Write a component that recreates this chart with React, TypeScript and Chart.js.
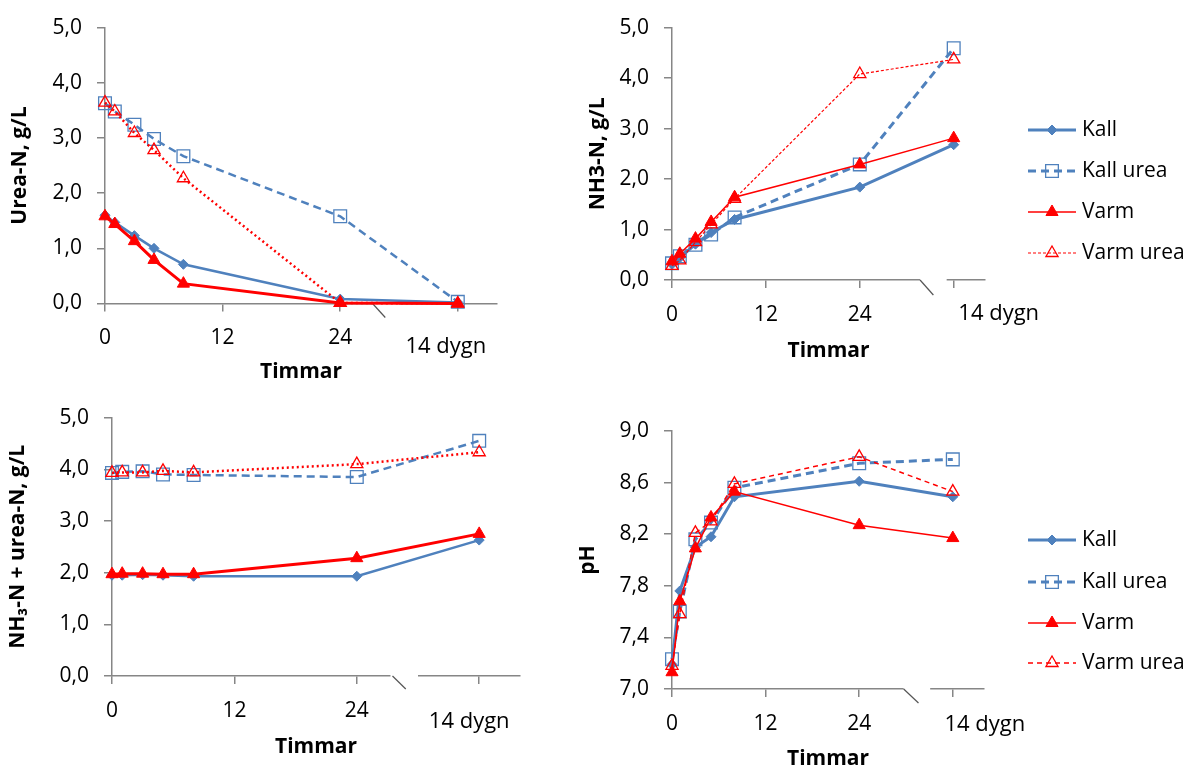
import React, { useEffect, useRef } from 'react';
import { Chart, registerables, PointElement } from 'chart.js';

Chart.register(...registerables);

// ---------- DATA ----------
const timeHours = [0, 1, 3, 5, 8, 24, 36]; // 36 = position of "14 dygn"
const xTickValues = [0, 12, 24, 36];
const dygnLabel = '14 dygn';
const seriesNames = ['Kall', 'Kall urea', 'Varm', 'Varm urea'];

const ureaKall = [1.6, 1.47, 1.23, 1.0, 0.71, 0.08, 0.02];
const ureaKallUrea = [3.63, 3.48, 3.24, 2.98, 2.67, 1.58, 0.03];
const ureaVarm = [1.58, 1.44, 1.13, 0.79, 0.36, 0.01, 0.0];
const ureaVarmUrea = [3.64, 3.48, 3.09, 2.78, 2.27, 0.01, 0.0];

const nh3Kall = [0.31, 0.44, 0.71, 0.94, 1.2, 1.84, 2.68];
const nh3KallUrea = [0.33, 0.47, 0.7, 0.9, 1.24, 2.29, 4.59];
const nh3Varm = [0.37, 0.52, 0.82, 1.15, 1.64, 2.29, 2.81];
const nh3VarmUrea = [0.28, 0.39, 0.75, 1.1, 1.61, 4.08, 4.37];

const sumKall = [1.95, 1.95, 1.96, 1.95, 1.93, 1.93, 2.63];
const sumKallUrea = [3.93, 3.95, 3.96, 3.9, 3.89, 3.85, 4.55];
const sumVarm = [1.97, 1.98, 1.98, 1.97, 1.97, 2.28, 2.75];
const sumVarmUrea = [3.93, 3.94, 3.94, 3.97, 3.94, 4.1, 4.33];

const phKall = [7.19, 7.76, 8.1, 8.18, 8.49, 8.61, 8.49];
const phKallUrea = [7.23, 7.6, 8.16, 8.29, 8.56, 8.75, 8.78];
const phVarm = [7.13, 7.68, 8.09, 8.33, 8.53, 8.27, 8.17];
const phVarmUrea = [7.18, 7.58, 8.21, 8.3, 8.59, 8.8, 8.53];

// ---------- STYLE ----------
const BLUE = '#4F81BD';
const RED = '#FF0000';
const AXIS = '#868686';
const FONT = "'Open Sans', sans-serif";
const CLEAR = 'rgba(255,255,255,0)';
const TICK_SIZE = 21;
const TITLE_SIZE = 21;

const markerStyles = [
  { pointStyle: 'rectRot', pointRadius: 5, pointBackgroundColor: BLUE, pointBorderColor: BLUE, pointBorderWidth: 1, borderColor: BLUE },
  { pointStyle: 'rect', pointRadius: 9, pointBackgroundColor: CLEAR, pointBorderColor: BLUE, pointBorderWidth: 1.3, borderColor: BLUE },
  { pointStyle: 'triangle', pointRadius: 7, pointBackgroundColor: RED, pointBorderColor: RED, pointBorderWidth: 1, borderColor: RED },
  { pointStyle: 'triangle', pointRadius: 7, pointBackgroundColor: CLEAR, pointBorderColor: RED, pointBorderWidth: 1.3, borderColor: RED },
];

const linesLeft = [
  { borderWidth: 2.5, borderDash: [] },
  { borderWidth: 2.5, borderDash: [8, 5] },
  { borderWidth: 3, borderDash: [] },
  { borderWidth: 2.5, borderDash: [2, 3] },
];
const linesNh3 = [
  { borderWidth: 3, borderDash: [] },
  { borderWidth: 3, borderDash: [8, 5] },
  { borderWidth: 1.5, borderDash: [] },
  { borderWidth: 1.2, borderDash: [3, 2] },
];
const linesPh = [
  { borderWidth: 3, borderDash: [] },
  { borderWidth: 3, borderDash: [8, 5] },
  { borderWidth: 1.5, borderDash: [] },
  { borderWidth: 1.5, borderDash: [5, 4] },
];

function buildDatasets(values: number[][], lineStyles: any[]) {
  return values.map((vals, i) => ({
    label: seriesNames[i],
    data: vals.map((y, j) => ({ x: timeHours[j], y })),
    ...markerStyles[i],
    ...lineStyles[i],
    order: 4 - i,
    clip: false as any,
    tension: 0,
    fill: false,
  }));
}

const decorPlugin = {
  id: 'decor',
  beforeDatasetsDraw(chart: any, _args: any, opts: any) {
    const ctx = chart.ctx;
    const xs = chart.scales.x;
    const yb = chart.chartArea.bottom;
    ctx.save();
    if (opts.gap) {
      const a = xs.getPixelForValue(opts.gap[0]);
      const b = xs.getPixelForValue(opts.gap[1]);
      ctx.fillStyle = '#ffffff';
      ctx.fillRect(a, yb - 3, b - a, 14);
    }
    if (opts.slash) {
      ctx.strokeStyle = '#555555';
      ctx.lineWidth = 1.2;
      ctx.beginPath();
      ctx.moveTo(xs.getPixelForValue(opts.slash[0]), yb);
      ctx.lineTo(xs.getPixelForValue(opts.slash[1]), yb + opts.slash[2]);
      ctx.stroke();
    }
    ctx.restore();
  },
  afterDraw(chart: any, _args: any, opts: any) {
    const ctx = chart.ctx;
    const xs = chart.scales.x;
    const yb = chart.chartArea.bottom;
    ctx.save();
    if (opts.dygn) {
      ctx.font = `${opts.dygn.size}px ${FONT}`;
      ctx.fillStyle = '#000';
      ctx.textAlign = 'center';
      ctx.textBaseline = 'middle';
      ctx.fillText(dygnLabel, xs.getPixelForValue(xTickValues[3]) + opts.dygn.dx, yb + opts.dygn.dy);
    }
    if (opts.legend) {
      const L = opts.legend;
      chart.data.datasets.forEach((ds: any, i: number) => {
        const y = L.ys[i];
        ctx.save();
        ctx.strokeStyle = ds.borderColor;
        ctx.lineWidth = ds.borderWidth;
        ctx.setLineDash(ds.borderDash || []);
        ctx.beginPath();
        ctx.moveTo(L.x1, y);
        ctx.lineTo(L.x2, y);
        ctx.stroke();
        ctx.restore();
        ctx.save();
        ctx.setLineDash([]);
        const p: any = new (PointElement as any)({
          x: (L.x1 + L.x2) / 2,
          y,
          options: {
            pointStyle: ds.pointStyle,
            radius: ds.pointRadius,
            backgroundColor: ds.pointBackgroundColor,
            borderColor: ds.pointBorderColor,
            borderWidth: ds.pointBorderWidth,
            rotation: 0,
          },
        });
        p.draw(ctx);
        ctx.restore();
        ctx.save();
        ctx.font = `${L.size}px ${FONT}`;
        ctx.fillStyle = '#000';
        ctx.textAlign = 'left';
        ctx.textBaseline = 'middle';
        ctx.fillText(ds.label, L.tx, y);
        ctx.restore();
      });
    }
    ctx.restore();
  },
};

type PanelCfg = {
  left: number; top: number; w: number; h: number;
  yWidth: number; xHeight: number; padTop: number; padRight: number;
  yTitle: string; yTitlePad: number; xTitlePad: number;
  yMin: number; yMax: number; yStep: number;
  values: number[][]; lines: any[];
  decor: any;
};

const panels: PanelCfg[] = [
  {
    left: 0, top: 0, w: 570, h: 390, yWidth: 105, xHeight: 86.5, padTop: 16, padRight: 73,
    yTitle: 'Urea-N, g/L', yTitlePad: 7, xTitlePad: 5, yMin: 0, yMax: 5, yStep: 1,
    values: [ureaKall, ureaKallUrea, ureaVarm, ureaVarmUrea], lines: linesLeft,
    decor: { gap: [27.3, 30.0], slash: [27.3, 28.6, 14], dygn: { dx: -12, dy: 43.5, size: 22 } },
  },
  {
    left: 570, top: 0, w: 626, h: 390, yWidth: 102, xHeight: 110, padTop: 20, padRight: 211,
    yTitle: 'NH3-N, g/L', yTitlePad: 15, xTitlePad: 26, yMin: 0, yMax: 5, yStep: 1,
    values: [nh3Kall, nh3KallUrea, nh3Varm, nh3VarmUrea], lines: linesNh3,
    decor: {
      gap: [31.7, 35.1], slash: [31.7, 33.4, 15], dygn: { dx: 45, dy: 34, size: 22 },
      legend: { x1: 458, x2: 506, tx: 512, ys: [130, 171, 212, 253], size: 21 },
    },
  },
  {
    left: 0, top: 390, w: 570, h: 382, yWidth: 112, xHeight: 96, padTop: 27, padRight: 50,
    yTitle: 'NH\u2083-N + urea-N, g/L', yTitlePad: 5, xTitlePad: 12, yMin: 0, yMax: 5, yStep: 1,
    values: [sumKall, sumKallUrea, sumVarm, sumVarmUrea], lines: linesLeft,
    decor: { gap: [27.3, 30.0], slash: [27.5, 28.8, 13], dygn: { dx: -10, dy: 46, size: 22 } },
  },
  {
    left: 570, top: 390, w: 626, h: 382, yWidth: 102, xHeight: 83, padTop: 41, padRight: 212,
    yTitle: 'pH', yTitlePad: 5, xTitlePad: 0, yMin: 7, yMax: 9, yStep: 0.4,
    values: [phKall, phKallUrea, phVarm, phVarmUrea], lines: linesPh,
    decor: {
      gap: [29.7, 33.1], slash: [29.7, 31.6, 14], dygn: { dx: 32, dy: 36, size: 22 },
      legend: { x1: 458, x2: 506, tx: 512, ys: [150, 192, 233, 273], size: 21 },
    },
  },
];

function Panel({ cfg }: { cfg: PanelCfg }) {
  const ref = useRef<HTMLCanvasElement>(null);
  useEffect(() => {
    if (!ref.current) return;
    const chart = new Chart(ref.current, {
      type: 'line',
      data: { datasets: buildDatasets(cfg.values, cfg.lines) as any },
      plugins: [decorPlugin as any],
      options: {
        animation: false,
        responsive: false,
        devicePixelRatio: 1,
        layout: { padding: { top: cfg.padTop, right: cfg.padRight, left: 0, bottom: 0 } },
        plugins: {
          legend: { display: false },
          tooltip: { enabled: false },
          decor: cfg.decor,
        } as any,
        scales: {
          x: {
            type: 'linear',
            min: 0,
            max: 40,
            afterBuildTicks: (scale: any) => {
              scale.ticks = xTickValues.map((v) => ({ value: v }));
            },
            afterFit: (scale: any) => {
              scale.height = cfg.xHeight;
            },
            ticks: {
              autoSkip: false,
              maxRotation: 0,
              padding: 14,
              color: '#000',
              font: { family: FONT, size: TICK_SIZE },
              callback: (v: any) => (Number(v) === xTickValues[3] ? '' : String(v)),
            },
            grid: { drawOnChartArea: false, drawTicks: true, tickLength: 8, color: AXIS, lineWidth: 1.5 },
            border: { display: true, color: AXIS, width: 1.5 },
            title: {
              display: true,
              text: 'Timmar',
              color: '#000',
              font: { family: FONT, size: TITLE_SIZE, weight: 'bold' },
              padding: { top: 0, bottom: cfg.xTitlePad },
            },
          },
          y: {
            type: 'linear',
            min: cfg.yMin,
            max: cfg.yMax,
            afterFit: (scale: any) => {
              scale.width = cfg.yWidth;
            },
            ticks: {
              stepSize: cfg.yStep,
              padding: 15,
              color: '#000',
              font: { family: FONT, size: TICK_SIZE },
              callback: (v: any) => Number(v).toFixed(1).replace('.', ','),
            },
            grid: { drawOnChartArea: false, drawTicks: true, tickLength: 8, color: AXIS, lineWidth: 1.5 },
            border: { display: true, color: AXIS, width: 1.5 },
            title: {
              display: true,
              text: cfg.yTitle,
              color: '#000',
              font: { family: FONT, size: TITLE_SIZE, weight: 'bold' },
              padding: { top: cfg.yTitlePad, bottom: 0 },
            },
          },
        },
      } as any,
    });
    return () => chart.destroy();
  }, []);
  return (
    <canvas
      ref={ref}
      width={cfg.w}
      height={cfg.h}
      style={{ position: 'absolute', left: cfg.left, top: cfg.top, width: cfg.w, height: cfg.h }}
    />
  );
}

export default function App() {
  return (
    <div style={{ position: 'fixed', left: 0, top: 0, width: 1196, height: 772, background: '#fff' }}>
      {panels.map((p, i) => (
        <Panel key={i} cfg={p} />
      ))}
    </div>
  );
}
